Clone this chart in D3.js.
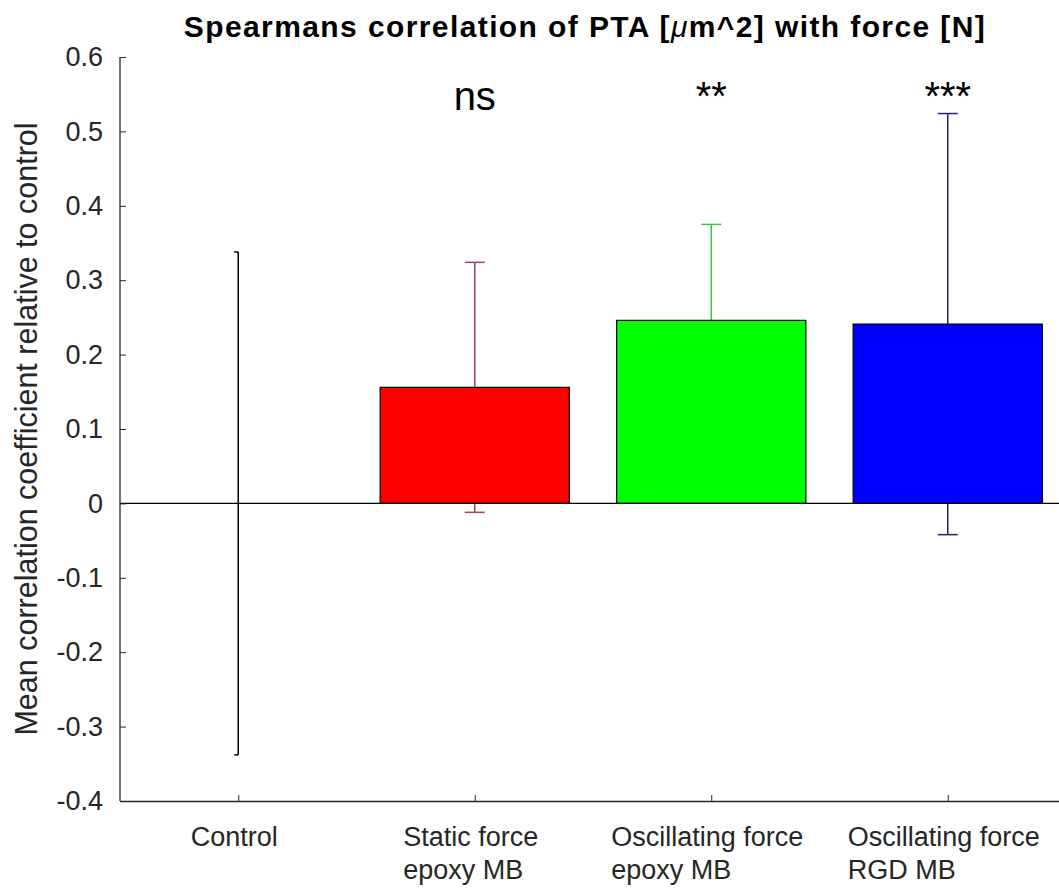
<!DOCTYPE html>
<html>
<head>
<meta charset="utf-8">
<script src="https://cdn.jsdelivr.net/npm/d3@7"></script>
<style>
  html, body { margin: 0; padding: 0; background: #fff; }
  svg { display: block; font-family: Arial, "Liberation Sans", sans-serif; }
</style>
</head>
<body>
<svg id="chart" width="1059" height="889"></svg>
<script>
// groups along the x axis
const categories = [["Control"], ["Static force", "epoxy MB"], ["Oscillating force", "epoxy MB"], ["Oscillating force", "RGD MB"]];
const means = [0, 0.156, 0.246, 0.241];
const errors = [0.338, 0.168, 0.129, 0.283];
const sigLabels = ["", "ns", "**", "***"];
const yTicks = [-0.4, -0.3, -0.2, -0.1, 0, 0.1, 0.2, 0.3, 0.4, 0.5, 0.6];

const barColors = ["none", "#ff0000", "#00ff00", "#0000ff"];
const errColors = ["#000000", "#a0405a", "#44c444", "#22227a"];
const textColor = "#262626";

const svg = d3.select("#chart");
const axLeft = 120, axTop = 57, axBottom = 801, axRight = 1066;

const x = d3.scaleLinear().domain([0.5, 4.5]).range([axLeft, axRight]);
const y = d3.scaleLinear().domain([-0.4, 0.6]).range([axBottom, axTop]);
const barW = x(1.4) - x(0.6);

// title
const title = svg.append("text")
	.attr("x", 585).attr("y", 37)
	.attr("text-anchor", "middle")
	.attr("font-size", 30).attr("font-weight", "bold")
	.attr("letter-spacing", 1.4)
	.attr("fill", "#000");
title.append("tspan").text("Spearmans correlation of PTA [");
title.append("tspan").attr("font-style", "italic").attr("font-weight", "normal").text("\u03bc");
title.append("tspan").text("m^2] with force [N]");

// error bars go first so the bars cover their inner half
const err = svg.append("g").selectAll("g")
	.data(means.map((m, i) => ({i: i, m: m, e: errors[i]})))
	.enter().append("g")
	.attr("stroke", d => errColors[d.i])
	.attr("stroke-width", 1.5);
err.append("line")
	.attr("x1", d => x(d.i + 1)).attr("x2", d => x(d.i + 1))
	.attr("y1", d => y(d.m - d.e)).attr("y2", d => y(d.m + d.e));
err.append("line")
	.attr("x1", d => x(d.i + 1) - (d.i === 0 ? 4 : 10)).attr("x2", d => x(d.i + 1) + (d.i === 0 ? 0 : 10))
	.attr("y1", d => y(d.m + d.e)).attr("y2", d => y(d.m + d.e));
err.append("line")
	.attr("x1", d => x(d.i + 1) - (d.i === 0 ? 4 : 10)).attr("x2", d => x(d.i + 1) + (d.i === 0 ? 0 : 10))
	.attr("y1", d => y(d.m - d.e)).attr("y2", d => y(d.m - d.e));

// bars
svg.append("g").selectAll("rect")
	.data(means)
	.enter().append("rect")
	.attr("x", (d, i) => x(i + 1) - barW / 2)
	.attr("width", barW)
	.attr("y", d => y(Math.max(d, 0)))
	.attr("height", d => Math.abs(y(d) - y(0)))
	.attr("fill", (d, i) => barColors[i])
	.attr("stroke", "#000")
	.attr("stroke-width", 1.2);

// baseline at zero
svg.append("line")
	.attr("x1", axLeft).attr("x2", axRight)
	.attr("y1", y(0)).attr("y2", y(0))
	.attr("stroke", "#000").attr("stroke-width", 1.3);

// axes
const yAxis = svg.append("g").attr("transform", `translate(${axLeft},0)`)
	.call(d3.axisLeft(y).tickValues(yTicks).tickSizeInner(-6).tickSizeOuter(0).tickPadding(17)
		.tickFormat(d => d === 0 ? "0" : d.toFixed(1)));
yAxis.select(".domain").attr("d", `M0,${axTop}V${axBottom}`);
yAxis.selectAll(".tick line").attr("stroke", textColor);

const xAxis = svg.append("g").attr("transform", `translate(0,${axBottom})`)
	.call(d3.axisBottom(x).tickValues([1, 2, 3, 4]).tickSizeInner(-6).tickSizeOuter(0).tickFormat(""));
xAxis.selectAll(".tick line").attr("stroke", textColor);

svg.selectAll(".domain").attr("stroke", textColor).attr("stroke-width", 1.3);
yAxis.selectAll(".tick text").attr("font-size", 27).attr("fill", textColor)
	.attr("font-family", "Arial, 'Liberation Sans', sans-serif");

// multi-line x tick labels: block centred on tick, lines left aligned
categories.forEach((lines, i) => {
	const t = svg.append("text")
		.attr("font-size", 27).attr("fill", textColor)
		.attr("y", 846);
	lines.forEach((s, k) => {
		t.append("tspan").attr("x", 0).attr("dy", k === 0 ? 0 : 33).text(s);
	});
	const w = d3.max(t.selectAll("tspan").nodes(), n => n.getComputedTextLength());
	t.attr("transform", `translate(${x(i + 1) - 4 - w / 2},0)`);
});

// significance labels
svg.append("g").selectAll("text")
	.data(sigLabels)
	.enter().append("text")
	.attr("x", (d, i) => x(i + 1))
	.attr("y", 110)
	.attr("text-anchor", "middle")
	.attr("font-size", 40)
	.attr("fill", "#000")
	.text(d => d);

// y axis label, centred on the axis like MATLAB does
svg.append("text")
	.attr("transform", `translate(37,${(axTop + axBottom) / 2}) rotate(-90)`)
	.attr("text-anchor", "middle")
	.attr("font-size", 30.5)
	.attr("fill", textColor)
	.text("Mean correlation coefficient relative to control");
</script>
</body>
</html>
